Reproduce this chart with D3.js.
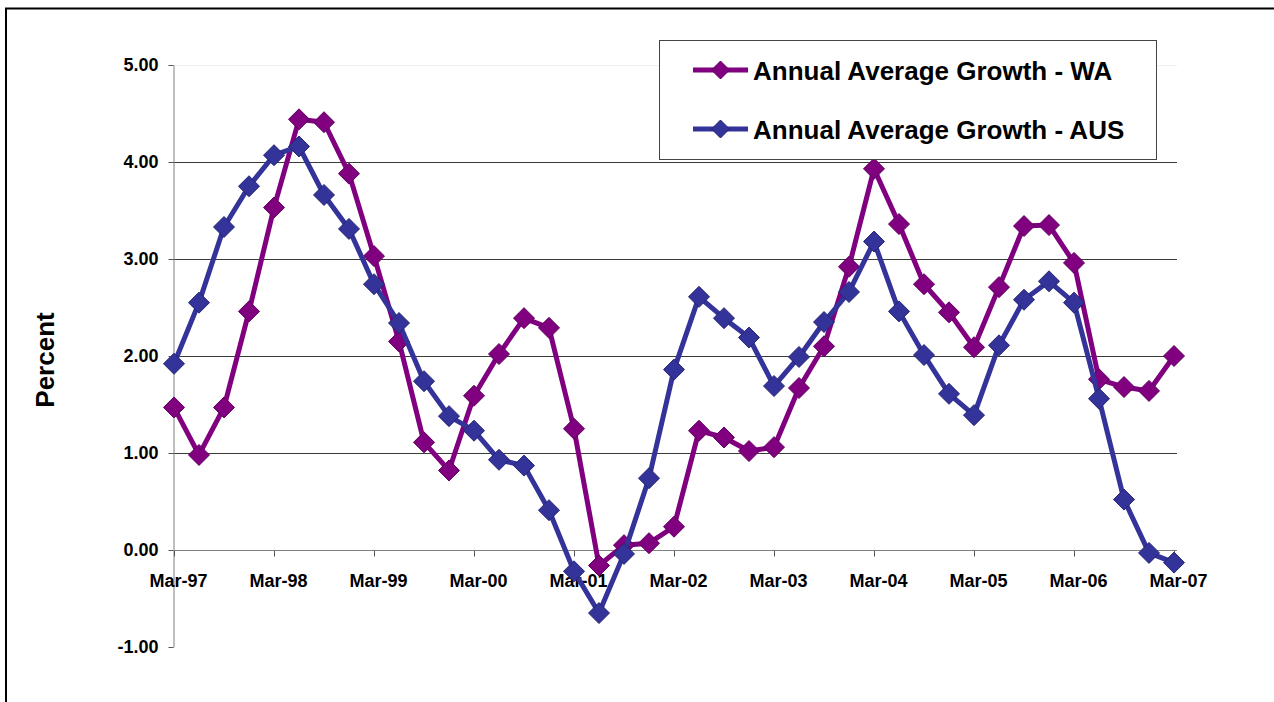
<!DOCTYPE html>
<html>
<head>
<meta charset="utf-8">
<script src="https://cdn.jsdelivr.net/npm/d3@7"></script>
<style>
  html, body { margin: 0; padding: 0; background: #fff; }
  svg { display: block; font-family: "Liberation Sans", Arial, sans-serif; }
</style>
</head>
<body>
<svg id="chart" width="1274" height="702"></svg>
<script>
// ---- data ----
const quarters = [];
const years = ["97","98","99","00","01","02","03","04","05","06","07"];
const months = ["Mar","Jun","Sep","Dec"];
years.forEach((y, yi) => months.forEach(m => { if (yi < years.length - 1 || m === "Mar") quarters.push(m + "-" + y); }));

const waGrowth = [1.47, 0.98, 1.47, 2.46, 3.53, 4.44, 4.41, 3.88, 3.03, 2.15,
                  1.11, 0.82, 1.59, 2.02, 2.39, 2.29, 1.25, -0.16, 0.05, 0.07,
                  0.24, 1.23, 1.16, 1.02, 1.06, 1.67, 2.10, 2.92, 3.93, 3.36,
                  2.74, 2.45, 2.09, 2.71, 3.34, 3.35, 2.96, 1.76, 1.68, 1.64, 2.00];
const ausGrowth = [1.92, 2.55, 3.33, 3.75, 4.07, 4.16, 3.66, 3.31, 2.74, 2.34,
                   1.74, 1.38, 1.23, 0.93, 0.87, 0.41, -0.22, -0.65, -0.04, 0.74,
                   1.86, 2.61, 2.39, 2.19, 1.69, 1.99, 2.35, 2.66, 3.18, 2.46,
                   2.01, 1.61, 1.39, 2.11, 2.58, 2.77, 2.55, 1.56, 0.52, -0.03, -0.13];
const seriesNames = ["Annual Average Growth - WA", "Annual Average Growth - AUS"];
const seriesColors = ["#800080", "#333399"];
const seriesStroke = ["#5e005e", "#262673"];
const yTicks = [-1, 0, 1, 2, 3, 4, 5];
const yTitle = "Percent";

// ---- layout ----
const svg = d3.select("#chart");
const x = d3.scalePoint().domain(quarters).range([174, 1174]);
const y = d3.scaleLinear().domain([-1, 5]).range([647, 65]);
const plotLeft = 173, plotRight = 1177;

// outer frame
svg.append("rect").attr("x", 6).attr("y", 8.5).attr("width", 1300).attr("height", 800)
  .attr("fill", "none").attr("stroke", "#000").attr("stroke-width", 2);

// gridlines
svg.append("g").selectAll("line").data(yTicks.filter(d => d > 0)).join("line")
  .attr("x1", plotLeft).attr("x2", plotRight)
  .attr("y1", d => Math.round(y(d)) + 0.5).attr("y2", d => Math.round(y(d)) + 0.5)
  .attr("stroke", d => d === 5 ? "#f0f0f0" : "#3a3a3a").attr("stroke-width", 1);

// y axis
const yAxis = svg.append("g").attr("transform", `translate(${plotLeft + 0.5},0)`)
  .call(d3.axisLeft(y).tickValues(yTicks).tickFormat(d => d.toFixed(2)).tickSize(5).tickSizeOuter(0).tickPadding(10));
yAxis.select(".domain").attr("stroke", "#808080");
yAxis.selectAll(".tick line").attr("stroke", "#555");
yAxis.selectAll(".tick text").attr("font-size", 18).attr("font-weight", "bold")
  .attr("fill", "#000").attr("font-family", "Liberation Sans, Arial, sans-serif");

// x axis at 0
const xAxis = svg.append("g").attr("transform", `translate(0,${Math.round(y(0)) + 0.5})`)
  .call(d3.axisBottom(x).tickValues(quarters.filter(q => q.startsWith("Mar"))).tickSize(6).tickSizeOuter(0).tickPadding(18));
xAxis.select(".domain").remove();
xAxis.append("line").attr("x1", plotLeft).attr("x2", plotRight).attr("stroke", "#808080");
xAxis.selectAll(".tick line").attr("stroke", "#555");
xAxis.selectAll(".tick text").attr("font-size", 18).attr("font-weight", "bold")
  .attr("fill", "#000").attr("dx", 4).attr("font-family", "Liberation Sans, Arial, sans-serif");

// y title
svg.append("text").attr("transform", "translate(54,360) rotate(-90)")
  .attr("text-anchor", "middle").attr("font-size", 26).attr("font-weight", "bold").text(yTitle);

// series
const diamond = (r) => `M0,${-r}L${r},0L0,${r}L${-r},0Z`;
const line = d3.line().x((d, i) => x(quarters[i])).y(d => y(d));
[waGrowth, ausGrowth].forEach((vals, si) => {
  const g = svg.append("g");
  g.append("path").datum(vals).attr("d", line).attr("fill", "none")
    .attr("stroke", seriesColors[si]).attr("stroke-width", 5).attr("stroke-linejoin", "round");
  g.selectAll("path.m").data(vals).join("path").attr("class", "m")
    .attr("transform", (d, i) => `translate(${x(quarters[i])},${y(d)})`)
    .attr("d", diamond(10.5)).attr("fill", seriesColors[si])
    .attr("stroke", seriesStroke[si]).attr("stroke-width", 1);
});

// legend
const lg = svg.append("g");
lg.append("rect").attr("x", 659.5).attr("y", 40.5).attr("width", 497).attr("height", 119)
  .attr("fill", "#fff").attr("stroke", "#444").attr("stroke-width", 1);
const legendY = [70, 129];
seriesNames.forEach((name, si) => {
  const ly = legendY[si];
  lg.append("line").attr("x1", 693).attr("x2", 748).attr("y1", ly).attr("y2", ly)
    .attr("stroke", seriesColors[si]).attr("stroke-width", 5);
  lg.append("path").attr("transform", `translate(720.5,${ly})`).attr("d", diamond(9))
    .attr("fill", seriesColors[si]).attr("stroke", seriesStroke[si]).attr("stroke-width", 1);
  lg.append("text").attr("x", 753).attr("y", ly + 10).attr("font-size", 26)
    .attr("font-weight", "bold").attr("fill", "#000").text(name);
});
</script>
</body>
</html>
